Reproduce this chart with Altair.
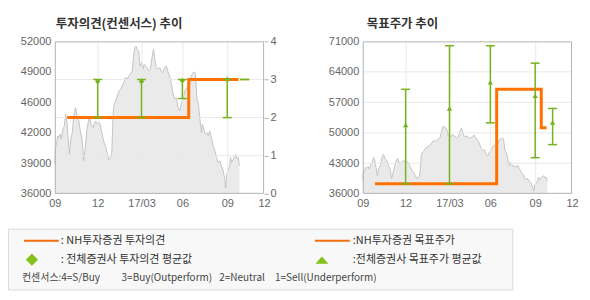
import altair as alt
import pandas as pd

# ---------------- data ----------------
price_dates = [
    "2016-09-01", "2016-09-02", "2016-09-05", "2016-09-07", "2016-09-09", "2016-09-12", "2016-09-15",
    "2016-09-18", "2016-09-21", "2016-09-24", "2016-09-27", "2016-09-29", "2016-10-02", "2016-10-05",
    "2016-10-08", "2016-10-10", "2016-10-13", "2016-10-15", "2016-10-18", "2016-10-22", "2016-10-25",
    "2016-10-29", "2016-11-01", "2016-11-05", "2016-11-08", "2016-11-12", "2016-11-14", "2016-11-17",
    "2016-11-21", "2016-11-26", "2016-12-01", "2016-12-05", "2016-12-08", "2016-12-11", "2016-12-14",
    "2016-12-17", "2016-12-21", "2016-12-24", "2016-12-28", "2016-12-30", "2017-01-02", "2017-01-04",
    "2017-01-07", "2017-01-10", "2017-01-14", "2017-01-17", "2017-01-20", "2017-01-24", "2017-01-27",
    "2017-01-31", "2017-02-03", "2017-02-06", "2017-02-10", "2017-02-12", "2017-02-15", "2017-02-18",
    "2017-02-20", "2017-02-23", "2017-02-26", "2017-03-01", "2017-03-04", "2017-03-07", "2017-03-10",
    "2017-03-13", "2017-03-17", "2017-03-21", "2017-03-25", "2017-03-28", "2017-03-31", "2017-04-03",
    "2017-04-07", "2017-04-11", "2017-04-14", "2017-04-18", "2017-04-22", "2017-04-26", "2017-04-29",
    "2017-05-03", "2017-05-07", "2017-05-11", "2017-05-15", "2017-05-19", "2017-05-22", "2017-05-26",
    "2017-05-30", "2017-06-01", "2017-06-04", "2017-06-07", "2017-06-10", "2017-06-12", "2017-06-16",
    "2017-06-19", "2017-06-23", "2017-06-26", "2017-06-28", "2017-07-01", "2017-07-04", "2017-07-07",
    "2017-07-10", "2017-07-12", "2017-07-15", "2017-07-18", "2017-07-21", "2017-07-24", "2017-07-27",
    "2017-07-31", "2017-08-03", "2017-08-06", "2017-08-10", "2017-08-13", "2017-08-17", "2017-08-20",
    "2017-08-23", "2017-08-27", "2017-08-29", "2017-08-31", "2017-09-03", "2017-09-07", "2017-09-09",
    "2017-09-12", "2017-09-16", "2017-09-19", "2017-09-22", "2017-09-25", "2017-09-28", "2017-10-01",
]
price_values = [
    39100, 40680, 41380, 42080, 41910, 42260, 41730,
    42780, 43060, 44350, 43480, 42080, 40160, 41730,
    42430, 43480, 44700, 45050, 44170, 43650, 42600,
    41730, 39460, 41030, 42600, 43830, 44170, 43300,
    42960, 43650, 43300, 43480, 42780, 42080, 41380,
    41030, 40160, 39560, 39810, 40340, 44700, 45400,
    45750, 46270, 46790, 46970, 47320, 47670, 48200,
    48020, 48370, 48540, 48890, 50120, 51340, 51510,
    51160, 50990, 49420, 49770, 49070, 49590, 49420,
    49250, 48890, 49070, 50460, 51160, 50120, 49250,
    49070, 49250, 48890, 48720, 49250, 49420, 48890,
    48370, 47670, 46450, 45920, 46100, 45050, 44700,
    45570, 45750, 46270, 46970, 47150, 46970, 47320,
    48370, 48720, 48790, 48540, 45920, 45400, 43830,
    42430, 43300, 42780, 42260, 42430, 42080, 42600,
    41730, 41030, 40680, 39810, 39290, 39460, 38940,
    38590, 37540, 36600, 38060, 38410, 38940, 39810,
    39290, 39640, 39980, 40160, 39640, 39810, 38940,
]

tick_dates = ["2016-09-01", "2016-12-01", "2017-03-01", "2017-06-01", "2017-09-01", "2017-12-01"]
grid_dates = ["2016-12-01", "2017-03-01", "2017-06-01", "2017-09-01"]

# NH 투자의견 (right axis 0-4)
op_step_dates = ["2016-09-27", "2017-06-14", "2017-09-29"]
op_step_values = [2, 3, 3]

# consensus ranges
cons_dates = ["2016-12-01", "2017-03-01", "2017-06-01", "2017-09-01", "2017-10-14"]
op_low = [2, 2, 2.5, 2, 3]
op_high = [3, 3, 3, 3, 3]
op_mean_dates = ["2016-12-01", "2017-03-01", "2017-06-01", "2017-09-01"]
op_mean = [2.95, 2.95, 2.97, 3.0]

# NH 목표주가
tp_step_dates = ["2016-09-27", "2017-06-14", "2017-09-16", "2017-09-29"]
tp_step_values = [38300, 60000, 51200, 51200]
tp_low = [38300, 38300, 52300, 44300, 47300]
tp_high = [60000, 70000, 70000, 66000, 55600]
tp_mean = [51800, 55600, 61600, 58500, 52400]

op_ticks = [0, 1, 2, 3, 4]
op_grid = [1, 2, 3]
left_price_ticks = [36000, 39200, 42400, 45600, 48800, 52000]
right_price_ticks = [36000, 43000, 50000, 57000, 64000, 71000]
right_price_grid = [43000, 50000, 57000, 64000]

# ---------------- styles ----------------
ORANGE = "#ff7200"
GREEN = "#77b31d"
AXIS_FONT = "Liberation Sans"
KR_FONT = "Noto Sans CJK KR"
W, H = 210, 153
TICK_PX = [0, 43, 87, 128, 173, 210]   # where the reference draws its month ticks


def to_ms(dates):
    return [int(pd.Timestamp(d, tz="UTC").value // 10**6) for d in dates]


price_df = pd.DataFrame({"t": to_ms(price_dates), "price": price_values})
vgrid_df = pd.DataFrame({"t": to_ms(grid_dates)})
tick_ms = to_ms(tick_dates)


def x_scale():
    return alt.Scale(domain=tick_ms, range=TICK_PX, nice=False, zero=False)


x_axis = alt.Axis(
    values=tick_ms,
    labelExpr="utcFormat(datum.value, '%m') == '03' ? utcFormat(datum.value, '%y/%m') : utcFormat(datum.value, '%m')",
    grid=False, ticks=False, domain=False, labelPadding=4, labelFlush=False, labelOverlap=False,
    labelFont=AXIS_FONT, labelFontSize=11, labelColor="#666", title=None, zindex=1,
)
X_AXIS = alt.X("t:Q", scale=x_scale(), axis=x_axis)
X = alt.X("t:Q", scale=x_scale(), axis=None)


def one_row():
    return alt.Chart(pd.DataFrame({"k": [0]}))


def label(txt, x, y, size=11, weight="normal", color="#333"):
    return one_row().mark_text(
        align="left", baseline="middle", font=KR_FONT, fontSize=size, fontWeight=weight, color=color
    ).encode(x=alt.value(x), y=alt.value(y), text=alt.value(txt))


def frame():
    return one_row().mark_rect(fillOpacity=0, stroke="#b4b4b4", strokeWidth=1).encode(
        x=alt.value(0.5), x2=alt.value(W - 0.5), y=alt.value(0.5), y2=alt.value(H - 0.5)
    )


def vgrid():
    return alt.Chart(vgrid_df).mark_rule(color="#e9e9e9", strokeWidth=1, xOffset=0.5).encode(x=X)


cap_shape = "M-1,0L1,0"

# ---------------- left chart: 투자의견 ----------------
op_scale = alt.Scale(domain=[0, 4], nice=False, zero=False)
lp_scale = alt.Scale(domain=[36000, 52000], nice=False, zero=False)

bg = one_row().mark_rect(color="white").encode(
    x=alt.value(-54), x2=alt.value(536), y=alt.value(-40), y2=alt.value(260)
)

area_left = alt.Chart(price_df).mark_area(
    color="#e1e1e1", line={"color": "#c4c4c4", "strokeWidth": 1}
).encode(
    x=X_AXIS,
    y=alt.Y("price:Q", scale=lp_scale, axis=alt.Axis(
        orient="left", values=left_price_ticks,
        labelExpr="format(round(datum.value/1000)*1000, 'd')",
        grid=False, ticks=False, domain=False, labelPadding=4, labelFlush=False,
        labelFont=AXIS_FONT, labelFontSize=11, labelColor="#666", title=None, zindex=1)),
    y2=alt.datum(36000),
)

hgrid_left = alt.Chart(pd.DataFrame({"v": op_grid})).mark_rule(
    color="#e9e9e9", strokeWidth=1
).encode(y=alt.Y("v:Q", scale=op_scale, axis=None))

op_step = alt.Chart(pd.DataFrame({"t": to_ms(op_step_dates), "v": op_step_values})).mark_line(
    interpolate="step-after", color=ORANGE, strokeWidth=3
).encode(
    x=X,
    y=alt.Y("v:Q", scale=op_scale, axis=alt.Axis(
        orient="right", values=op_ticks, format="d", grid=False, ticks=True, tickSize=4,
        tickColor="#b4b4b4", domain=False, labelPadding=2, labelFlush=False,
        labelFont=AXIS_FONT, labelFontSize=11, labelColor="#666", title=None, zindex=1)),
)

op_df = pd.DataFrame({"t": to_ms(cons_dates), "lo": op_low, "hi": op_high})
op_bars = alt.Chart(op_df).mark_rule(color=GREEN, strokeWidth=1.5).encode(
    x=X, y=alt.Y("lo:Q", scale=op_scale, axis=None), y2="hi:Q"
)
op_cap_lo = alt.Chart(op_df).mark_point(
    shape=cap_shape, filled=False, color=GREEN, strokeWidth=1.5, size=81, opacity=1
).encode(x=X, y=alt.Y("lo:Q", scale=op_scale, axis=None))
op_cap_hi = alt.Chart(op_df).mark_point(
    shape=cap_shape, filled=False, color=GREEN, strokeWidth=1.5, size=81, opacity=1
).encode(x=X, y=alt.Y("hi:Q", scale=op_scale, axis=None))
op_marks = alt.Chart(pd.DataFrame({"t": to_ms(op_mean_dates), "m": op_mean})).mark_point(
    shape="diamond", filled=True, color=GREEN, size=30, opacity=1
).encode(x=X, y=alt.Y("m:Q", scale=op_scale, axis=None))

# legend (placed below both panels)
legend_box = one_row().mark_rect(fill="#f8f8f8", stroke="#dadada", strokeWidth=1).encode(
    x=alt.value(-46.5), x2=alt.value(459.5), y=alt.value(188.5), y2=alt.value(249.5)
)
leg_line1 = one_row().mark_rule(color="#f07010", strokeWidth=2).encode(
    x=alt.value(-31), x2=alt.value(4), y=alt.value(200)
)
leg_line2 = one_row().mark_rule(color="#f07010", strokeWidth=2).encode(
    x=alt.value(261), x2=alt.value(296), y=alt.value(200)
)
leg_diamond = one_row().mark_point(shape="diamond", filled=True, color="#84c11a", size=150, opacity=1).encode(
    x=alt.value(-23), y=alt.value(219)
)
leg_tri = one_row().mark_point(shape="M0,-0.55L1,0.55L-1,0.55Z", filled=True, color="#84c11a",
                               size=170, opacity=1).encode(x=alt.value(268), y=alt.value(219.5))

texts = [
    label(": NH투자증권 투자의견", 6, 200),
    label(":NH투자증권 목표주가", 299, 200),
    label(": 전체증권사 투자의견 평균값", 6, 219),
    label(":전체증권사 목표주가 평균값", 299, 219),
    label("컨센서스:4=S/Buy", -33, 237, size=10, color="#444"),
    label("3=Buy(Outperform)", 67, 237, size=10, color="#444"),
    label("2=Neutral", 165, 237, size=10, color="#444"),
    label("1=Sell(Underperform)", 221, 237, size=10, color="#444"),
]

title_left = one_row().mark_text(
    align="left", baseline="alphabetic", font=KR_FONT, fontSize=12.5, fontWeight="bold", color="#333"
).encode(x=alt.value(1), y=alt.value(-13.5), text=alt.value("투자의견(컨센서스) 추이"))

left = alt.layer(
    bg, area_left, vgrid(), hgrid_left, op_step, op_bars, op_cap_lo, op_cap_hi, op_marks, frame(),
    title_left, legend_box, leg_line1, leg_line2, leg_diamond, leg_tri, *texts
).resolve_scale(x="independent", y="independent").properties(width=W, height=H)

# ---------------- right chart: 목표주가 ----------------
rp_scale = alt.Scale(domain=[36000, 71000], nice=False, zero=False)

area_right = alt.Chart(price_df).mark_area(
    color="#e1e1e1", line={"color": "#c4c4c4", "strokeWidth": 1}
).encode(
    x=X_AXIS,
    y=alt.Y("price:Q", scale=rp_scale, axis=alt.Axis(
        orient="left", values=right_price_ticks, format="d",
        grid=False, ticks=False, domain=False, labelPadding=4, labelFlush=False,
        labelFont=AXIS_FONT, labelFontSize=11, labelColor="#666", title=None, zindex=1)),
    y2=alt.datum(36000),
)

hgrid_right = alt.Chart(pd.DataFrame({"v": right_price_grid})).mark_rule(
    color="#e9e9e9", strokeWidth=1
).encode(y=alt.Y("v:Q", scale=rp_scale, axis=None))

tp_step = alt.Chart(pd.DataFrame({"t": to_ms(tp_step_dates), "v": tp_step_values})).mark_line(
    interpolate="step-after", color=ORANGE, strokeWidth=3
).encode(x=X, y=alt.Y("v:Q", scale=rp_scale, axis=None))

tp_df = pd.DataFrame({"t": to_ms(cons_dates), "lo": tp_low, "hi": tp_high, "m": tp_mean})
tp_bars = alt.Chart(tp_df).mark_rule(color=GREEN, strokeWidth=1.5).encode(
    x=X, y=alt.Y("lo:Q", scale=rp_scale, axis=None), y2="hi:Q"
)
tp_cap_lo = alt.Chart(tp_df).mark_point(
    shape=cap_shape, filled=False, color=GREEN, strokeWidth=1.5, size=81, opacity=1
).encode(x=X, y=alt.Y("lo:Q", scale=rp_scale, axis=None))
tp_cap_hi = alt.Chart(tp_df).mark_point(
    shape=cap_shape, filled=False, color=GREEN, strokeWidth=1.5, size=81, opacity=1
).encode(x=X, y=alt.Y("hi:Q", scale=rp_scale, axis=None))
tp_marks = alt.Chart(tp_df).mark_point(
    shape="triangle-up", filled=True, color=GREEN, size=28, opacity=1
).encode(x=X, y=alt.Y("m:Q", scale=rp_scale, axis=None))

title_right = one_row().mark_text(
    align="left", baseline="alphabetic", font=KR_FONT, fontSize=12.5, fontWeight="bold", color="#333"
).encode(x=alt.value(4), y=alt.value(-13.5), text=alt.value("목표주가 추이"))

right = alt.layer(
    area_right, vgrid(), hgrid_right, tp_step, tp_bars, tp_cap_lo, tp_cap_hi, tp_marks, frame(), title_right
).resolve_scale(x="independent", y="independent").properties(width=W, height=H)

chart = alt.hconcat(left, right, spacing=99, bounds="flush").properties(
    padding=0, background="white"
).configure_view(stroke="transparent")

chart.save("out.html", embed_options={"renderer": "svg", "actions": False})
